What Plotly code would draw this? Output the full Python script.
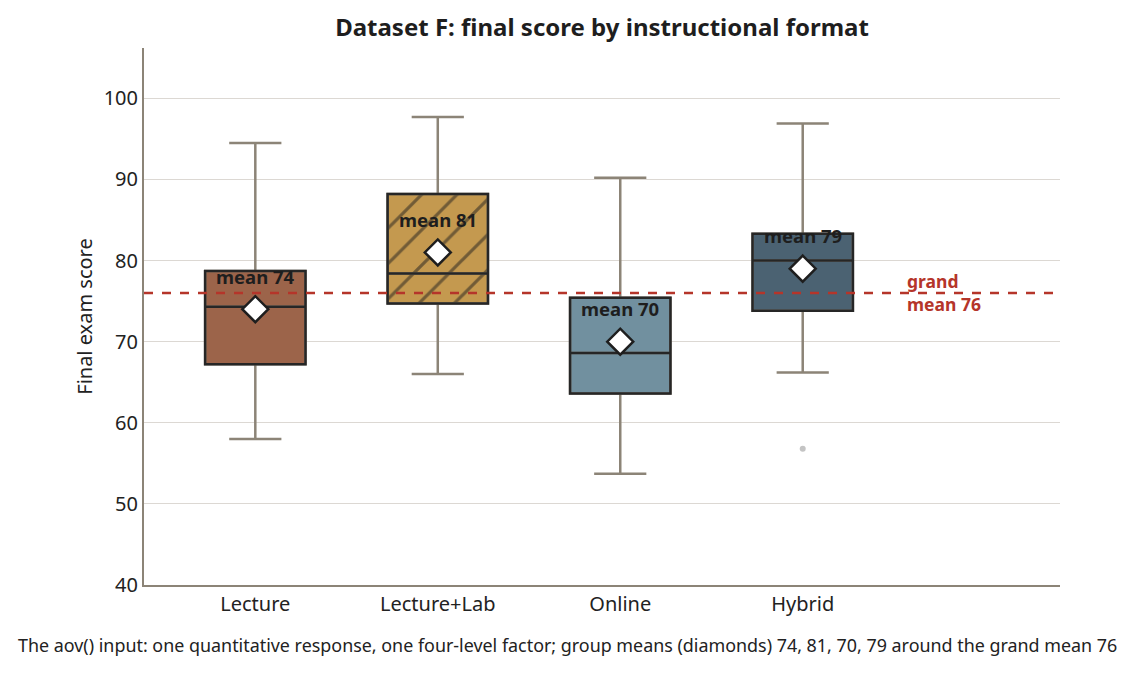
import plotly.graph_objects as go

# group summaries
formats = ["Lecture", "Lecture+Lab", "Online", "Hybrid"]
q1 = [67.2, 74.7, 63.6, 73.8]
median = [74.3, 78.4, 68.6, 80.0]
q3 = [78.7, 88.2, 75.4, 83.3]
low_whisker = [58.0, 66.0, 53.7, 66.2]
high_whisker = [94.5, 97.7, 90.2, 96.9]
group_means = [74, 81, 70, 79]
grand_mean = 76
outlier_x = ["Hybrid"]
outlier_y = [56.8]

fills = ["#9c644a", "#c4994f", "#71909f", "#4b6272"]
hatch = ["", "/", "", ""]

FONT = "Noto Sans"
fig = go.Figure()

# box fills (bars so the hatch pattern can be used)
for i, f in enumerate(formats):
    fig.add_trace(go.Bar(
        x=[f], y=[q3[i] - q1[i]], base=[q1[i]], width=0.55,
        marker=dict(color=fills[i], line=dict(width=0),
                    pattern=dict(shape=hatch[i], fgcolor="#1e1e1e", bgcolor=fills[i],
                                 size=25, solidity=0.13)),
        showlegend=False, hoverinfo="skip"))

# whiskers in grey
fig.add_trace(go.Box(
    x=formats, q1=q1, median=median, q3=q3,
    lowerfence=low_whisker, upperfence=high_whisker,
    width=0.55, whiskerwidth=0.52, fillcolor="rgba(0,0,0,0)",
    line=dict(color="#8c8477", width=2.5), showlegend=False, hoverinfo="skip"))

# dark box outline + median
fig.add_trace(go.Box(
    x=formats, q1=q1, median=median, q3=q3,
    lowerfence=q1, upperfence=q3,
    width=0.55, whiskerwidth=0, fillcolor="rgba(0,0,0,0)",
    line=dict(color="#262626", width=2.5), showlegend=False, hoverinfo="skip"))

fig.add_trace(go.Scatter(
    x=outlier_x, y=outlier_y, mode="markers",
    marker=dict(color="#c4c4c4", size=6), showlegend=False, hoverinfo="skip"))

fig.add_hline(y=grand_mean, line=dict(color="#b5352a", width=2.5, dash="dash"))

fig.add_trace(go.Scatter(
    x=formats, y=group_means, mode="markers",
    marker=dict(symbol="diamond", size=20, color="white",
                line=dict(color="#1e1e1e", width=2.5)),
    showlegend=False, hoverinfo="skip"))

for f, m in zip(formats, group_means):
    fig.add_annotation(x=f, y=m, yshift=33, text=f"<b>mean {m}</b>", showarrow=False,
                       font=dict(family=FONT, size=18.5, color="#1e1e1e"))

fig.add_annotation(x=3.56, y=grand_mean, xanchor="left", align="left",
                   text="<b>grand<br>mean 76</b>", showarrow=False,
                   font=dict(family=FONT, size=17.5, color="#b5352a"))

fig.add_annotation(x=0.462, y=-0.112, xref="paper", yref="paper",
                   xanchor="center", yanchor="middle", showarrow=False,
                   text="The aov() input: one quantitative response, one four-level factor; group means (diamonds) 74, 81, 70, 79 around the grand mean 76",
                   font=dict(family=FONT, size=17.9, color="#222222"))

# page body has an 8px margin, so the figure is sized to sit in the 1134x673 window
fig.update_layout(
    width=1126, height=665,
    margin=dict(l=136, r=74, t=40, b=88),
    paper_bgcolor="white", plot_bgcolor="white",
    barmode="overlay", boxmode="overlay",
    title=dict(text="<b>Dataset F: final score by instructional format</b>",
               x=0.5, xref="paper", y=0.97, yanchor="middle",
               font=dict(family=FONT, size=24, color="#1e1e1e")),
    font=dict(family=FONT, color="#222222"),
)
fig.update_xaxes(type="category", range=[-0.61, 4.41], showline=True,
                 linecolor="#8c8477", linewidth=2, showgrid=False, ticks="",
                 tickfont=dict(size=20, color="#222222"))
fig.update_yaxes(range=[40, 106.2], dtick=10, showline=True,
                 linecolor="#8c8477", linewidth=2, gridcolor="#dcd8d3", gridwidth=1.2,
                 zeroline=False, ticks="", tickfont=dict(size=20, color="#222222"),
                 title=dict(text="Final exam score", font=dict(size=20), standoff=6))

fig.write_html("out.html")
